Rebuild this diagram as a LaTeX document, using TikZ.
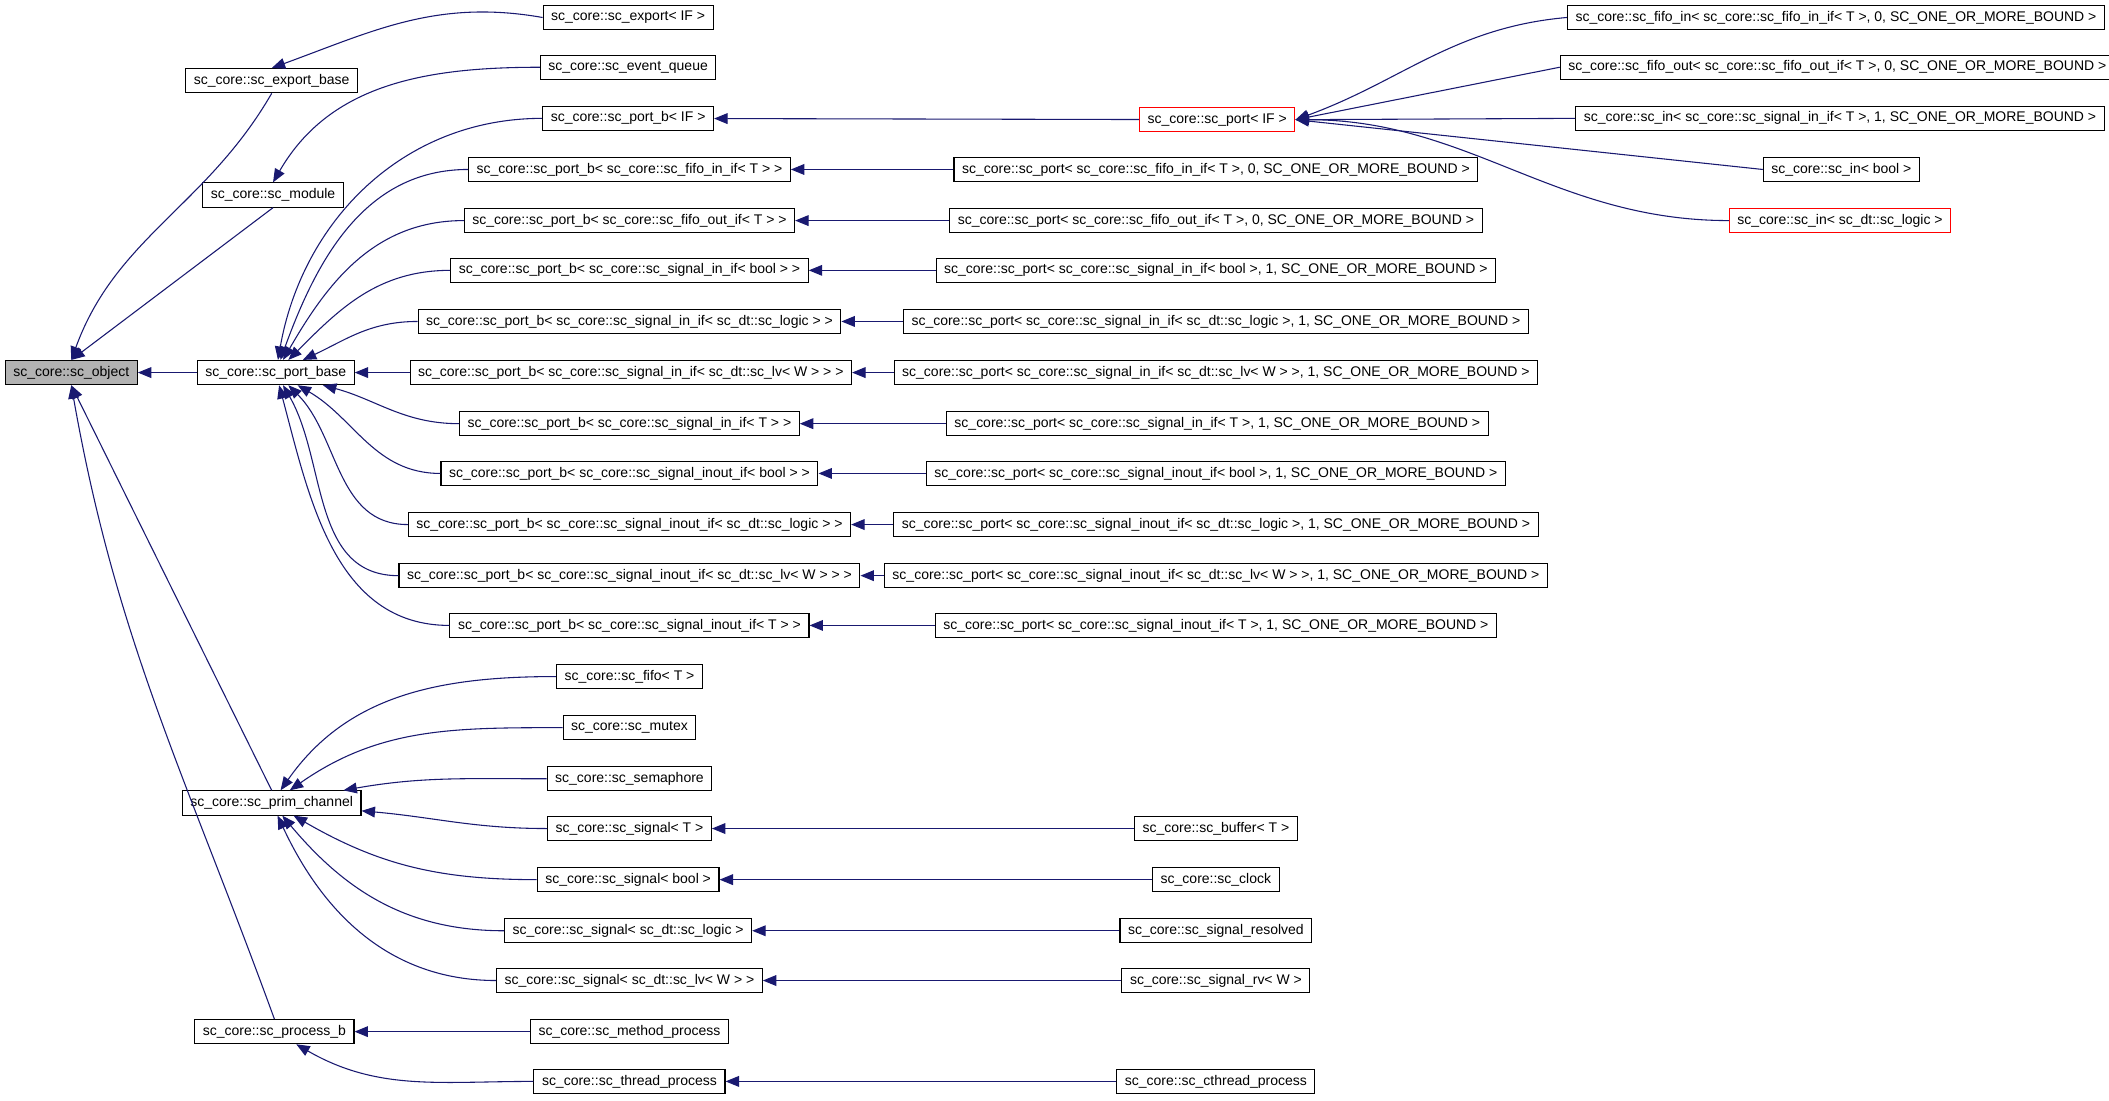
\documentclass[tikz,border=0pt]{standalone}
\usepackage{fontspec}
\setmainfont{Liberation Sans}
\usetikzlibrary{arrows.meta}
\definecolor{navyedge}{RGB}{25,25,112}
\tikzset{
  cls/.style={draw=black, fill=white, inner xsep=3pt, inner ysep=0pt,
    minimum height=9pt, font=\fontsize{5.2}{6}\selectfont},
  redcls/.style={cls, draw=red},
  inh/.style={navyedge, thin, -{Triangle[width=4pt,length=5pt]}}
}
\begin{document}
\begin{tikzpicture}[x=0.5pt,y=-0.5pt]
\useasboundingbox (0,0) rectangle (1568,818);

% Root and its direct children
\node[cls, fill=gray!60] (obj) at (53,277) {sc\_core::sc\_object};
\node[cls] (expbase)  at (202,60)  {sc\_core::sc\_export\_base};
\node[cls] (module)   at (203,145) {sc\_core::sc\_module};
\node[cls] (portbase) at (205,277) {sc\_core::sc\_port\_base};
\node[cls] (prim)     at (202,597) {sc\_core::sc\_prim\_channel};
\node[cls] (procb)    at (204,767) {sc\_core::sc\_process\_b};

% Second column
\node[cls] (export)  at (467,13)  {sc\_core::sc\_export< IF >};
\node[cls] (evq)     at (467,50)  {sc\_core::sc\_event\_queue};
\node[cls] (pbif)    at (467,88)  {sc\_core::sc\_port\_b< IF >};
\node[cls] (pbfi)    at (468,126) {sc\_core::sc\_port\_b< sc\_core::sc\_fifo\_in\_if< T > >};
\node[cls] (pbfo)    at (468,164) {sc\_core::sc\_port\_b< sc\_core::sc\_fifo\_out\_if< T > >};
\node[cls] (pbsib)   at (468,201) {sc\_core::sc\_port\_b< sc\_core::sc\_signal\_in\_if< bool > >};
\node[cls] (pbsil)   at (468,239) {sc\_core::sc\_port\_b< sc\_core::sc\_signal\_in\_if< sc\_dt::sc\_logic > >};
\node[cls] (pbsilv)  at (469,277) {sc\_core::sc\_port\_b< sc\_core::sc\_signal\_in\_if< sc\_dt::sc\_lv< W > > >};
\node[cls] (pbsit)   at (468,315) {sc\_core::sc\_port\_b< sc\_core::sc\_signal\_in\_if< T > >};
\node[cls] (pbsob)   at (468,352) {sc\_core::sc\_port\_b< sc\_core::sc\_signal\_inout\_if< bool > >};
\node[cls] (pbsol)   at (468,390) {sc\_core::sc\_port\_b< sc\_core::sc\_signal\_inout\_if< sc\_dt::sc\_logic > >};
\node[cls] (pbsolv)  at (468,428) {sc\_core::sc\_port\_b< sc\_core::sc\_signal\_inout\_if< sc\_dt::sc\_lv< W > > >};
\node[cls] (pbsot)   at (468,465) {sc\_core::sc\_port\_b< sc\_core::sc\_signal\_inout\_if< T > >};
\node[cls] (fifo)    at (468,503) {sc\_core::sc\_fifo< T >};
\node[cls] (mutex)   at (468,541) {sc\_core::sc\_mutex};
\node[cls] (sema)    at (468,579) {sc\_core::sc\_semaphore};
\node[cls] (sigt)    at (468,616) {sc\_core::sc\_signal< T >};
\node[cls] (sigb)    at (467,654) {sc\_core::sc\_signal< bool >};
\node[cls] (sigl)    at (467,692) {sc\_core::sc\_signal< sc\_dt::sc\_logic >};
\node[cls] (siglv)   at (468,729) {sc\_core::sc\_signal< sc\_dt::sc\_lv< W > >};
\node[cls] (method)  at (468,767) {sc\_core::sc\_method\_process};
\node[cls] (thread)  at (468,804) {sc\_core::sc\_thread\_process};

% Third column
\node[redcls] (portif) at (905,89) {sc\_core::sc\_port< IF >};
\node[cls] (pfi)    at (904,126) {sc\_core::sc\_port< sc\_core::sc\_fifo\_in\_if< T >, 0, SC\_ONE\_OR\_MORE\_BOUND >};
\node[cls] (pfo)    at (904,164) {sc\_core::sc\_port< sc\_core::sc\_fifo\_out\_if< T >, 0, SC\_ONE\_OR\_MORE\_BOUND >};
\node[cls] (psib)   at (904,201) {sc\_core::sc\_port< sc\_core::sc\_signal\_in\_if< bool >, 1, SC\_ONE\_OR\_MORE\_BOUND >};
\node[cls] (psil)   at (904,239) {sc\_core::sc\_port< sc\_core::sc\_signal\_in\_if< sc\_dt::sc\_logic >, 1, SC\_ONE\_OR\_MORE\_BOUND >};
\node[cls] (psilv)  at (904,277) {sc\_core::sc\_port< sc\_core::sc\_signal\_in\_if< sc\_dt::sc\_lv< W > >, 1, SC\_ONE\_OR\_MORE\_BOUND >};
\node[cls] (psit)   at (905,315) {sc\_core::sc\_port< sc\_core::sc\_signal\_in\_if< T >, 1, SC\_ONE\_OR\_MORE\_BOUND >};
\node[cls] (psob)   at (904,352) {sc\_core::sc\_port< sc\_core::sc\_signal\_inout\_if< bool >, 1, SC\_ONE\_OR\_MORE\_BOUND >};
\node[cls] (psol)   at (904,390) {sc\_core::sc\_port< sc\_core::sc\_signal\_inout\_if< sc\_dt::sc\_logic >, 1, SC\_ONE\_OR\_MORE\_BOUND >};
\node[cls] (psolv)  at (904,428) {sc\_core::sc\_port< sc\_core::sc\_signal\_inout\_if< sc\_dt::sc\_lv< W > >, 1, SC\_ONE\_OR\_MORE\_BOUND >};
\node[cls] (psot)   at (904,465) {sc\_core::sc\_port< sc\_core::sc\_signal\_inout\_if< T >, 1, SC\_ONE\_OR\_MORE\_BOUND >};
\node[cls] (buffer) at (904,616) {sc\_core::sc\_buffer< T >};
\node[cls] (clock)  at (904,654) {sc\_core::sc\_clock};
\node[cls] (sres)   at (904,692) {sc\_core::sc\_signal\_resolved};
\node[cls] (srv)    at (904,729) {sc\_core::sc\_signal\_rv< W >};
\node[cls] (cthr)   at (904,804) {sc\_core::sc\_cthread\_process};

% Fourth column
\node[cls] (infi)  at (1365,13)  {sc\_core::sc\_fifo\_in< sc\_core::sc\_fifo\_in\_if< T >, 0, SC\_ONE\_OR\_MORE\_BOUND >};
\node[cls] (outfo) at (1366,50)  {sc\_core::sc\_fifo\_out< sc\_core::sc\_fifo\_out\_if< T >, 0, SC\_ONE\_OR\_MORE\_BOUND >};
\node[cls] (insi)  at (1368,88)  {sc\_core::sc\_in< sc\_core::sc\_signal\_in\_if< T >, 1, SC\_ONE\_OR\_MORE\_BOUND >};
\node[cls] (inb)   at (1369,126) {sc\_core::sc\_in< bool >};
\node[redcls] (inl) at (1368,164) {sc\_core::sc\_in< sc\_dt::sc\_logic >};

% Edges to the root
\draw[inh] (expbase.south) to[out=240,in=70] (obj.north);
\draw[inh] (module.south) -- (obj.north);
\draw[inh] (portbase) -- (obj);
\draw[inh] (prim.north) -- (obj.south);
\draw[inh] (procb.north) to[out=110,in=-80] (obj.south);

\draw[inh] (export.west) to[out=170,in=20] (expbase.north);
\draw[inh] (evq.west) to[out=180,in=60] (module.north);

% Edges to sc_port_base
\foreach \c/\a in {pbif/80, pbfi/70, pbfo/60, pbsib/45, pbsil/25, pbsilv/0,
                   pbsit/-15, pbsob/-30, pbsol/-45, pbsolv/-60, pbsot/-75}
  \draw[inh] (\c.west) to[out=180,in=\a] (portbase);

% Edges to sc_prim_channel
\foreach \c/\a in {fifo/55, mutex/35, sema/10, sigt/-5, sigb/-30, sigl/-50, siglv/-65}
  \draw[inh] (\c.west) to[out=180,in=\a] (prim);
\foreach \c/\a in {method/0, thread/-30}
  \draw[inh] (\c.west) to[out=180,in=\a] (procb);

% Straight edges between columns
\foreach \c/\p in {portif/pbif, pfi/pbfi, pfo/pbfo, psib/pbsib, psil/pbsil,
                   psilv/pbsilv, psit/pbsit, psob/pbsob, psol/pbsol,
                   psolv/pbsolv, psot/pbsot, buffer/sigt, clock/sigb,
                   sres/sigl, srv/siglv, cthr/thread}
  \draw[inh] (\c) -- (\p);

% Edges to sc_port< IF >
\draw[inh] (infi.west) to[out=185,in=20] (portif.east);
\draw[inh] (outfo.west) -- (portif.east);
\draw[inh] (insi.west) -- (portif.east);
\draw[inh] (inb.west) -- (portif.east);
\draw[inh] (inl.west) to[out=180,in=0] (portif.east);
\end{tikzpicture}
\end{document}
